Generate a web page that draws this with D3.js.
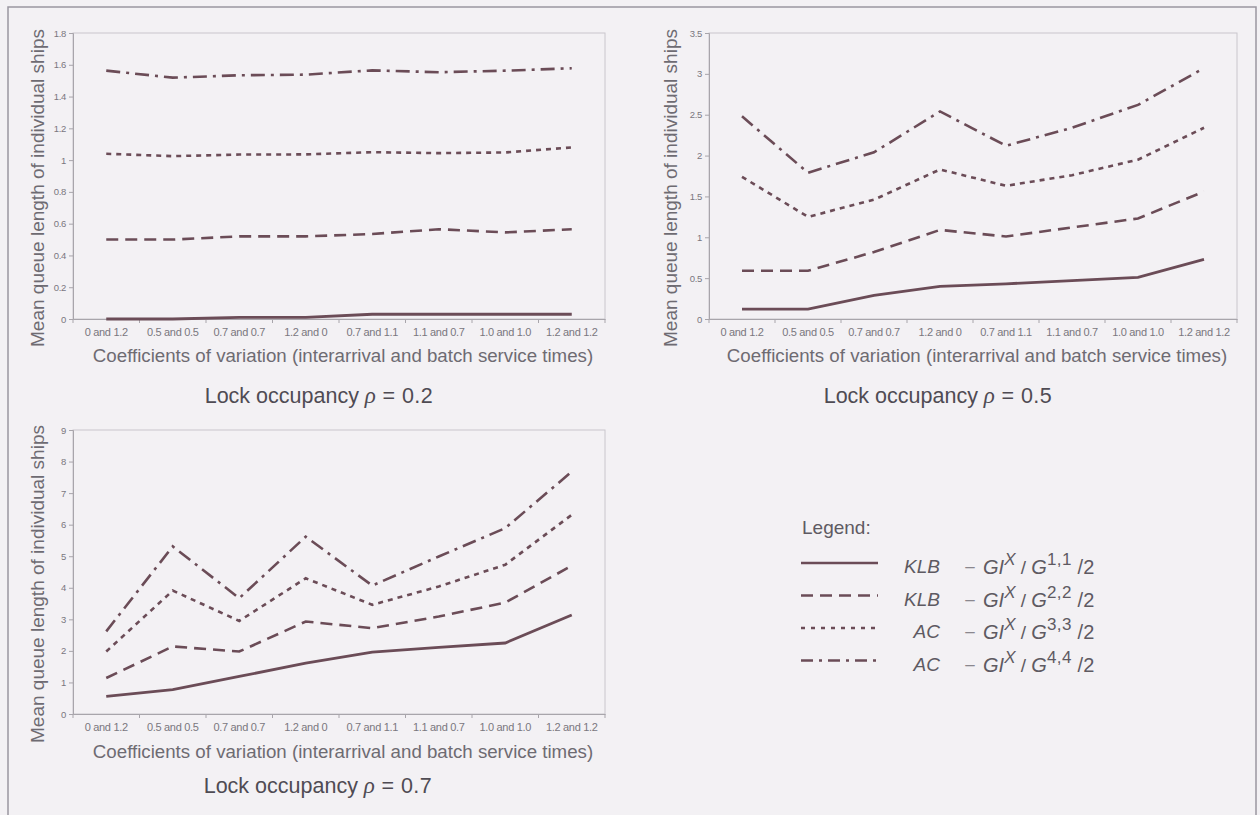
<!DOCTYPE html>
<html lang="en">
<head>
<meta charset="UTF-8"/>
<title>Mean queue length vs coefficients of variation</title>
<script src="https://d3js.org/d3.v7.min.js"></script>
<style>
	body { margin:0; background:#f3f1f4; }
	svg { display:block; font-family:"Liberation Sans", Arial, sans-serif; }
</style>
</head>
<body>
<script>
	// categories on the x axis (interarrival and batch service cv)
	var categories = ["0 and 1.2","0.5 and 0.5","0.7 and 0.7","1.2 and 0","0.7 and 1.1","1.1 and 0.7","1.0 and 1.0","1.2 and 1.2"];

	// rho = 0.2
	var klb11_r02 = [0.00,0.00,0.01,0.01,0.03,0.03,0.03,0.03];
	var klb22_r02 = [0.50,0.50,0.52,0.52,0.535,0.565,0.545,0.565];
	var ac33_r02  = [1.04,1.025,1.035,1.036,1.05,1.044,1.048,1.08];
	var ac44_r02  = [1.563,1.519,1.534,1.538,1.565,1.553,1.563,1.578];
	var ticks_r02 = [0,0.2,0.4,0.6,0.8,1,1.2,1.4,1.6,1.8];

	// rho = 0.5
	var klb11_r05 = [0.12,0.12,0.29,0.40,0.43,0.47,0.51,0.73];
	var klb22_r05 = [0.59,0.59,0.82,1.09,1.01,1.12,1.23,1.56];
	var ac33_r05  = [1.74,1.25,1.46,1.83,1.63,1.76,1.95,2.34];
	var ac44_r05  = [2.48,1.79,2.04,2.54,2.12,2.34,2.62,3.07];
	var ticks_r05 = [0,0.5,1,1.5,2,2.5,3,3.5];

	// rho = 0.7
	var klb11_r07 = [0.56,0.77,1.19,1.61,1.96,2.11,2.25,3.14];
	var klb22_r07 = [1.14,2.14,1.98,2.93,2.72,3.09,3.53,4.70];
	var ac33_r07  = [1.98,3.91,2.95,4.30,3.46,4.04,4.73,6.31];
	var ac44_r07  = [2.62,5.31,3.67,5.62,4.07,4.99,5.89,7.68];
	var ticks_r07 = [0,1,2,3,4,5,6,7,8,9];

	var lineColor = "#6b4c57";
	var dashes = ["none","12,7","5,5","14,6,3,6"];

	var w = 1260, h = 815;
	var svg = d3.select("body").append("svg").attr("width",w).attr("height",h);

	// scanned page border
	svg.append("rect").attr("x",8).attr("y",7).attr("width",1248).attr("height",840)
		.attr("fill","none").attr("stroke","#9a96a0").attr("stroke-width",1.5);

	var charts = [
		{left:73, right:605, top:33, bottom:319, ticks:ticks_r02, series:[klb11_r02,klb22_r02,ac33_r02,ac44_r02], yTitleX:37, xTitleY:362, titleY:403, titleX:319, rho:"0.2"},
		{left:709, right:1237, top:33, bottom:319, ticks:ticks_r05, series:[klb11_r05,klb22_r05,ac33_r05,ac44_r05], yTitleX:670, xTitleY:362, titleY:403, titleX:938, rho:"0.5"},
		{left:73, right:605, top:430, bottom:714, ticks:ticks_r07, series:[klb11_r07,klb22_r07,ac33_r07,ac44_r07], yTitleX:37, xTitleY:758, titleY:793, titleX:318, rho:"0.7"}
	];

	charts.forEach(function(c){
		var xScale = d3.scaleBand().domain(categories).range([c.left,c.right]);
		var yScale = d3.scaleLinear().domain([0,d3.max(c.ticks)]).range([c.bottom,c.top]);
		var g = svg.append("g");

		// plot frame
		g.append("rect").attr("x",c.left).attr("y",c.top)
			.attr("width",c.right-c.left).attr("height",c.bottom-c.top)
			.attr("fill","none").attr("stroke","#c9c6cc").attr("stroke-width",1);

		// y axis
		var yAxis = g.append("g").attr("transform","translate("+c.left+",0)")
			.call(d3.axisLeft(yScale).tickValues(c.ticks).tickSize(4).tickPadding(3).tickFormat(function(d){ return String(d); }));
		yAxis.selectAll("text").attr("font-size","9.5px").attr("fill","#7a777e").attr("letter-spacing","-0.3px");
		yAxis.selectAll("line,path").attr("stroke","#a8a5ab");

		// x axis, labels at band centres
		var xAxis = g.append("g").attr("transform","translate(0,"+c.bottom+")")
			.call(d3.axisBottom(xScale).tickSize(0).tickPadding(9));
		xAxis.selectAll("text").attr("font-size","11px").attr("fill","#7a777e").attr("letter-spacing","-0.3px");
		xAxis.select("path").attr("stroke","#a8a5ab");
		// tick marks at band boundaries
		var bounds = categories.map(function(k){ return xScale(k); }).concat([c.right]);
		g.selectAll(".bt").data(bounds).enter().append("line")
			.attr("x1",function(d){ return d; }).attr("x2",function(d){ return d; })
			.attr("y1",c.bottom).attr("y2",c.bottom+4)
			.attr("stroke","#a8a5ab");

		// series lines
		var line = d3.line()
			.x(function(d,i){ return xScale(categories[i])+xScale.bandwidth()/2; })
			.y(function(d){ return yScale(d); });
		g.selectAll(".series").data(c.series).enter().append("path")
			.attr("d",line)
			.attr("fill","none")
			.attr("stroke",lineColor)
			.attr("stroke-width",function(d,i){ return i==0 ? 2.8 : 2.6; })
			.attr("stroke-dasharray",function(d,i){ return dashes[i]; });

		// axis titles
		g.append("text").text("Mean queue length of individual ships")
			.attr("transform","translate("+c.yTitleX+","+((c.top+c.bottom)/2+12)+") rotate(-90)")
			.attr("text-anchor","middle").attr("dy","0.35em")
			.attr("font-size","19px").attr("fill","#6e6b72");
		g.append("text").text("Coefficients of variation (interarrival and batch service times)")
			.attr("x",(c.left+c.right)/2+4).attr("y",c.xTitleY)
			.attr("text-anchor","middle").attr("font-size","18.7px").attr("fill","#6e6b72");

		var t = g.append("text").attr("x",c.titleX).attr("y",c.titleY)
			.attr("text-anchor","middle").attr("font-size","21.5px").attr("fill","#4f4b53");
		t.append("tspan").text("Lock occupancy ");
		t.append("tspan").text("\u03C1").attr("font-family","'Liberation Serif', serif").attr("font-style","italic").attr("font-size","23px");
		t.append("tspan").text(" = "+c.rho).attr("letter-spacing","0.5px");
	});

	// legend
	var legendNames = ["KLB","KLB","AC","AC"];
	var legendOrders = ["1,1","2,2","3,3","4,4"];
	var lg = svg.append("g");
	lg.append("text").text("Legend:").attr("x",802).attr("y",534)
		.attr("font-size","19px").attr("fill","#5e5a62");
	var rows = lg.selectAll(".row").data(legendNames).enter().append("g")
		.attr("transform",function(d,i){ return "translate(0,"+(563+i*32.5)+")"; });
	rows.append("line").attr("x1",801).attr("x2",878).attr("y1",0).attr("y2",0)
		.attr("stroke",lineColor).attr("stroke-width",2.6)
		.attr("stroke-dasharray",function(d,i){ return i==2 ? "4,6" : (i==3 ? "12,6,3,6" : dashes[i]); });
	rows.append("text").text(function(d){ return d; })
		.attr("x",940).attr("y",10).attr("text-anchor","end")
		.attr("font-size","19px").attr("font-style","italic").attr("fill","#5e5a62");
	rows.append("text").text("\u2013").attr("x",970).attr("y",9).attr("text-anchor","middle")
		.attr("font-size","17px").attr("fill","#8a878e");
	var f = rows.append("text").attr("x",983).attr("y",11)
		.attr("font-size","20px").attr("fill","#5e5a62");
	f.append("tspan").text("GI").attr("font-style","italic");
	f.append("tspan").text("X").attr("font-style","italic").attr("dy","-9").attr("font-size","17px");
	f.append("tspan").text(" / ").attr("dy","9").attr("font-size","19px");
	f.append("tspan").text("G").attr("font-style","italic");
	f.append("tspan").text(function(d,i){ return legendOrders[i]; }).attr("dy","-9").attr("font-size","17px").attr("letter-spacing","0.5px");
	f.append("tspan").text(" /2").attr("dy","9").attr("font-size","20px");
</script>
</body>
</html>
